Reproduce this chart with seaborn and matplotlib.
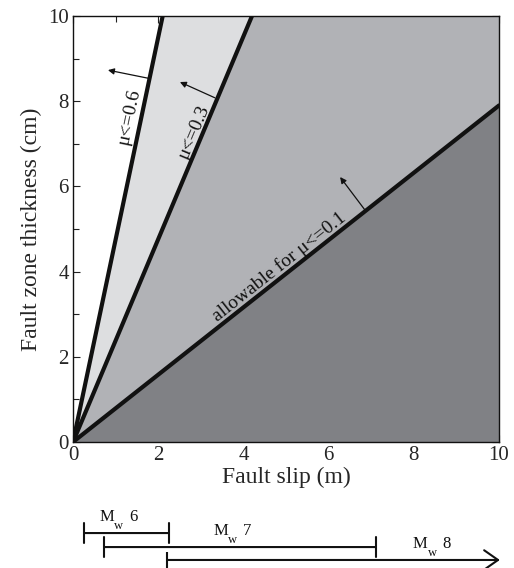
import numpy as np
import matplotlib
matplotlib.use('Agg')
import matplotlib.pyplot as plt
import seaborn as sns
import pandas as pd

# ==================== data ====================
slip_range = [0, 10]                      # Fault slip (m)
slopes = [4.75, 2.38, 0.79]               # thickness(cm) per slip(m) for mu<=0.6, 0.3, 0.1
mu_labels = ['μ<=0.6', 'μ<=0.3', 'allowable for μ<=0.1']
fill_colors = ['#dddee0', '#b1b2b6', '#808185']

# arrows (start on line, end) in data units
arrow_start = [(1.76, 8.54), (3.33, 8.08), (6.85, 5.45)]
arrow_end = [(0.82, 8.73), (2.51, 8.45), (6.27, 6.22)]
label_pos = [(1.31, 7.63), (2.84, 7.28), (4.85, 4.12)]

# magnitude slip ranges (m)
mw_names = ['6', '7', '8']
mw_start = [0.26, 0.73, 2.21]
mw_end = [2.25, 7.11, 10.02]
mw_text_x = [0.63, 3.29, 7.98]

# ==================== style ====================
sns.set_style('ticks')
plt.rcParams['font.family'] = ['Liberation Serif', 'DejaVu Serif']

fig = plt.figure(figsize=(5.14, 5.68), dpi=100)
ax = fig.add_axes([73 / 514, 1 - 442 / 568, 426 / 514, 426 / 568])

x = np.array(slip_range, dtype=float)
df = pd.DataFrame({'slip': np.tile(x, 3),
                   'thick': np.concatenate([k * x for k in slopes]),
                   'mu': np.repeat(mu_labels, 2)})

# filled regions between boundaries
ax.fill_between(x, slopes[0] * x, slopes[1] * x, color=fill_colors[0], lw=0)
ax.fill_between(x, slopes[1] * x, slopes[2] * x, color=fill_colors[1], lw=0)
ax.fill_between(x, 0, slopes[2] * x, color=fill_colors[2], lw=0)

sns.lineplot(data=df, x='slip', y='thick', units='mu', estimator=None,
             color='#111111', lw=3, ax=ax, legend=False)

ax.set_xlim(0, 10)
ax.set_ylim(0, 10)
ax.set_xticks(range(0, 11, 2))
ax.set_yticks(range(0, 11, 2))
ax.set_xticks(range(0, 11), minor=True)
ax.set_yticks(range(0, 11), minor=True)
ax.tick_params(which='both', direction='in', top=True, right=True,
               labelsize=15, width=0.8, color='#222222', pad=3)
ax.tick_params(which='major', length=5)
ax.tick_params(which='minor', length=4)
for s in ax.spines.values():
    s.set_linewidth(1.0)
    s.set_color('#111111')
ax.set_xlabel('Fault slip (m)', fontsize=17, labelpad=1)
ax.set_ylabel('Fault zone thickness (cm)', fontsize=17, labelpad=4)

# labels along lines and arrows
for k, lab, (lx, ly), st, en in zip(slopes, mu_labels, label_pos, arrow_start, arrow_end):
    p = ax.transData.transform([(0, 0), (1, k)])
    ang = np.degrees(np.arctan2(p[1, 1] - p[0, 1], p[1, 0] - p[0, 0]))
    ax.text(lx, ly, lab, rotation=ang, rotation_mode='anchor',
            ha='center', va='center', fontsize=14, color='#111111')
    ax.annotate('', xy=en, xytext=st,
                arrowprops=dict(arrowstyle='-|>', lw=0.9, color='#111111',
                                mutation_scale=9, shrinkA=0, shrinkB=0))

# ==================== magnitude bars ====================
bx = fig.add_axes([73 / 514, 0, 426 / 514, 68 / 568])
bx.set_xlim(0, 10)
bx.set_ylim(0, 5)
bx.axis('off')
levels = [2.57, 1.54, 0.59]
text_levels = [3.46, 2.43, 1.47]
for i, name in enumerate(mw_names):
    if i < 2:
        style = '|-|,widthA=0.35,widthB=0.35'
    else:
        style = '->,head_length=0.5,head_width=0.35'
        bx.plot([mw_start[i]], [levels[i]], marker='|', ms=12, mew=1.5,
                color='#111111', clip_on=False)
    bx.annotate('', xy=(mw_end[i], levels[i]), xytext=(mw_start[i], levels[i]),
                arrowprops=dict(arrowstyle=style, lw=1.5, color='#111111',
                                shrinkA=0, shrinkB=0, mutation_scale=20),
                annotation_clip=False)
    pos = (mw_text_x[i], text_levels[i])
    bx.annotate('M', xy=pos, xytext=(0, 0), textcoords='offset points',
                fontsize=12, ha='left', va='baseline', color='#111111')
    bx.annotate('w', xy=pos, xytext=(10.5, -5.5), textcoords='offset points',
                fontsize=9, ha='left', va='baseline', color='#111111')
    bx.annotate(name, xy=pos, xytext=(21.5, 0), textcoords='offset points',
                fontsize=12, ha='left', va='baseline', color='#111111')

fig.savefig('out.png', dpi=100)
